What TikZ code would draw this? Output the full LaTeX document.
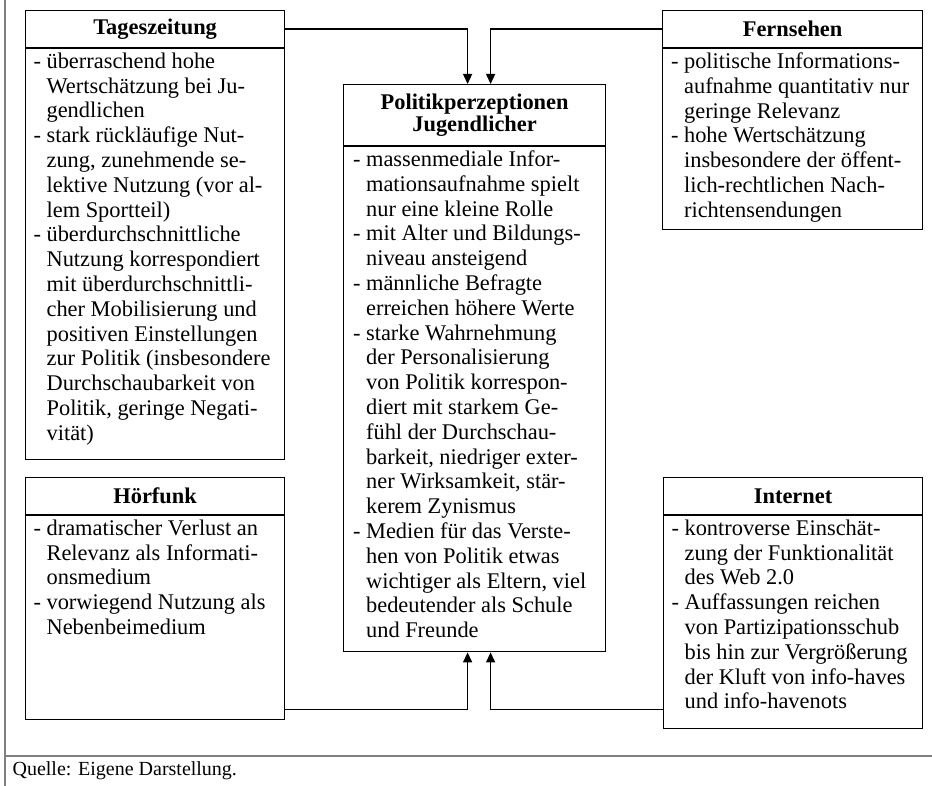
\documentclass[tikz,border=0pt]{standalone}
\usepackage{fontspec}
\setmainfont{Liberation Serif}
\usetikzlibrary{positioning,arrows.meta}
\newcommand\pkt[1]{\par\hangindent=6.5pt\hangafter=1\noindent\makebox[6.5pt][l]{-}#1}
\newcommand\feld[2]{\makebox[121.5pt][l]{\parbox[c][#1][t]{150pt}{\raggedright\vspace{2pt}#2}}}
\begin{document}
\begin{tikzpicture}[x=.5pt,y=-.5pt,line width=.6pt,
  font=\fontsize{11.2}{12.4}\selectfont,
  kopf/.style={draw,inner sep=0pt,minimum height=18.5pt,font=\fontsize{11.2}{11.2}\selectfont\bfseries},
  rumpf/.style={draw,inner xsep=3.5pt,inner ysep=0pt},
  pfeil/.style={line width=.7pt,-{Triangle[length=5pt,width=4.5pt]}},
  rahmen/.style={draw=gray,line width=.7pt}]
\useasboundingbox (0,0) rectangle (932,786);
% Rahmen und Quelle
\draw[rahmen] (5,0)--(5,786);\draw[rahmen] (5,756)--(932,756);
\node[anchor=west,inner sep=0pt,font=\fontsize{10}{12}\selectfont] (quelle) at (12,771) {Quelle: Eigene Darstellung.};
% Tageszeitung
\node[kopf,minimum width=129.5pt,anchor=north west] (tzkopf) at (25,10) {Tageszeitung};
\node[rumpf,below=0pt of tzkopf,inner xsep=4pt] (tz) {\feld{205.5pt}{%
\pkt{überraschend hohe\newline Wertschätzung bei Ju-\newline gendlichen}
\pkt{stark rückläufige Nut-\newline zung, zunehmende se-\newline lektive Nutzung (vor al-\newline lem Sportteil)}
\pkt{überdurchschnittliche\newline Nutzung korrespondiert\newline mit überdurchschnittli-\newline cher Mobilisierung und\newline positiven Einstellungen\newline zur Politik (insbesondere\newline Durchschaubarkeit von\newline Politik, geringe Negati-\newline vität)}}};
% Hoerfunk
\node[kopf,minimum width=129.5pt,anchor=north west] (hfkopf) at (25,477) {Hörfunk};
\node[rumpf,below=0pt of hfkopf,inner xsep=4pt] (hf) {\feld{102pt}{%
\pkt{dramatischer Verlust an\newline Relevanz als Informati-\newline onsmedium}
\pkt{vorwiegend Nutzung als\newline Nebenbeimedium}}};
% Fernsehen
\node[kopf,minimum width=130pt,anchor=north west] (fskopf) at (662,10) {Fernsehen};
\node[rumpf,below=0pt of fskopf,inner xsep=4.25pt] (fs) {\feld{90.5pt}{%
\pkt{politische Informations-\newline aufnahme quantitativ nur\newline geringe Relevanz}
\pkt{hohe Wertschätzung\newline insbesondere der öffent-\newline lich-rechtlichen Nach-\newline richtensendungen}}};
% Internet
\node[kopf,minimum width=129.5pt,anchor=north west] (inkopf) at (663,477) {Internet};
\node[rumpf,below=0pt of inkopf,inner xsep=4pt] (in) {\feld{106.5pt}{%
\pkt{kontroverse Einschät-\newline zung der Funktionalität\newline des Web 2.0}
\pkt{Auffassungen reichen\newline von Partizipationsschub\newline bis hin zur Vergrößerung\newline der Kluft von info-haves\newline und info-havenots}}};
% Politikperzeptionen
\node[kopf,minimum width=131pt,minimum height=30.5pt,align=center,anchor=north west] (ppkopf) at (343,84) {Politikperzeptionen\\Jugendlicher};
\node[rumpf,below=0pt of ppkopf,inner xsep=4.75pt] (pp) {\feld{252.5pt}{%
\pkt{massenmediale Infor-\newline mationsaufnahme spielt\newline nur eine kleine Rolle}
\pkt{mit Alter und Bildungs-\newline niveau ansteigend}
\pkt{männliche Befragte\newline erreichen höhere Werte}
\pkt{starke Wahrnehmung\newline der Personalisierung\newline von Politik korrespon-\newline diert mit starkem Ge-\newline fühl der Durchschau-\newline barkeit, niedriger exter-\newline ner Wirksamkeit, stär-\newline kerem Zynismus}
\pkt{Medien für das Verste-\newline hen von Politik etwas\newline wichtiger als Eltern, viel\newline bedeutender als Schule\newline und Freunde}}};
% Pfeile
\draw[pfeil] (tzkopf.east) -| ([xshift=-3.5pt]ppkopf.north);
\draw[pfeil] (fskopf.west) -| ([xshift=8pt]ppkopf.north);
\draw[pfeil] ([yshift=5.5pt]hf.south east) -| ([xshift=-3.5pt]pp.south);
\draw[pfeil] ([yshift=10pt]in.south west) -| ([xshift=8pt]pp.south);
\end{tikzpicture}
\end{document}
